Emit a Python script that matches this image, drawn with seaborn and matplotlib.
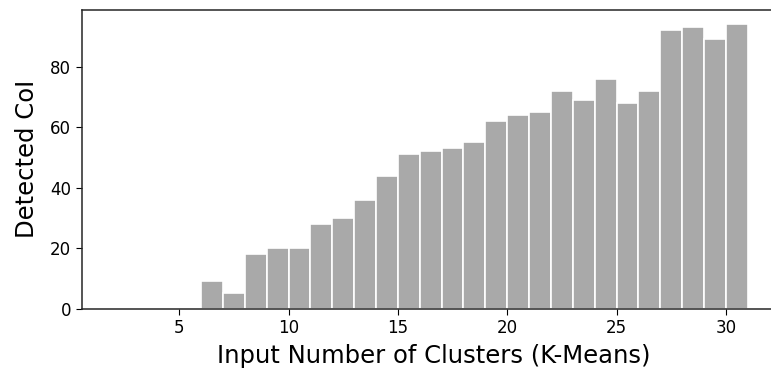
import numpy as np
import pandas as pd
import matplotlib
matplotlib.use("Agg")
import matplotlib.pyplot as plt
import seaborn as sns

# Number of clusters passed to K-Means and the CoI count detected for each
clusters = [6, 7, 8, 9, 10, 11, 12, 13, 14, 15, 16, 17, 18,
            19, 20, 21, 22, 23, 24, 25, 26, 27, 28, 29, 30]
detected = [9, 5, 18, 20, 20, 28, 30, 36, 44, 51, 52, 53, 55,
            62, 64, 65, 72, 69, 76, 68, 72, 92, 93, 89, 94]
x_ticks = [5, 10, 15, 20, 25, 30]
y_ticks = [0, 20, 40, 60, 80]

# each count fills the unit bin [k, k + 1)
df = pd.DataFrame({"bin_center": np.array(clusters, dtype=float) + 0.5,
                   "detected": detected})

sns.set_style("ticks")
plt.rcParams["font.family"] = ["DejaVu Sans"]

fig = plt.figure(figsize=(7.71, 3.74), dpi=100)
# the axes run slightly past the right edge of the canvas
ax = fig.add_axes([0.106, 0.175, 0.912, 0.798])

sns.barplot(data=df, x="bin_center", y="detected", native_scale=True,
            width=1.0, color="#a9a9a9", saturation=1,
            edgecolor="white", linewidth=1.2, ax=ax)

ax.set_xlim(0.54, 32.7)
ax.set_ylim(0, 98.7)
ax.set_xticks(x_ticks)
ax.set_xticklabels([str(t) for t in x_ticks])
ax.set_yticks(y_ticks)
ax.tick_params(labelsize=12, colors="black", length=4)
ax.set_xlabel("Input Number of Clusters (K-Means)", fontsize=17.5,
              labelpad=5, color="black")
ax.set_ylabel("Detected CoI", fontsize=17.5, labelpad=8, color="black")
for s in ax.spines.values():
    s.set_color("#262626")
    s.set_linewidth(1.1)

fig.savefig("out.png", dpi=100)
